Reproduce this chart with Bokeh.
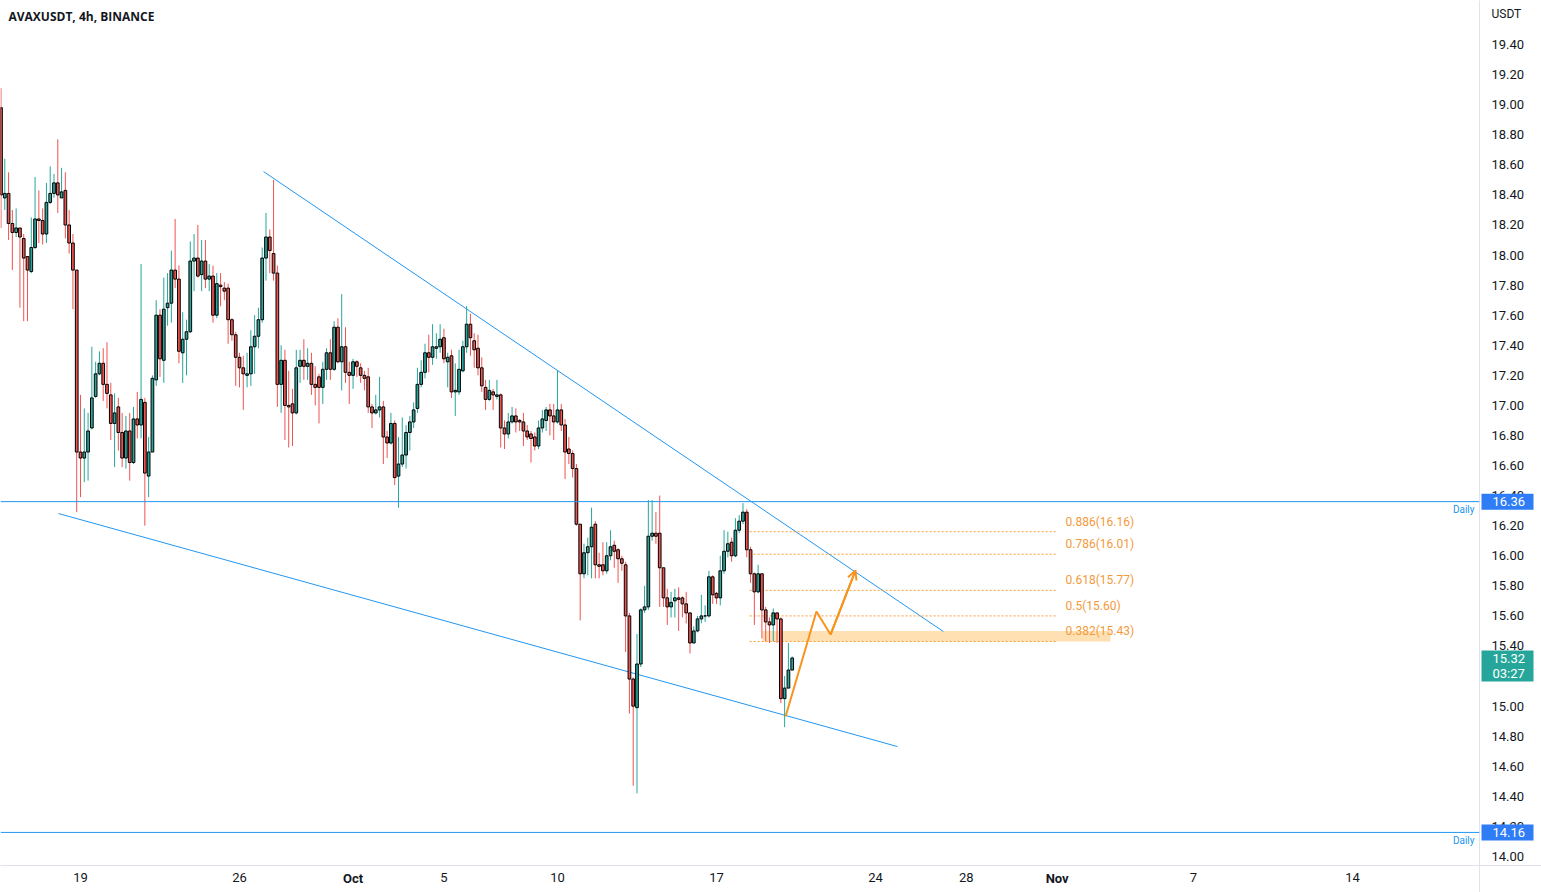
import pandas as pd
from bokeh.plotting import figure
from bokeh.models import (Range1d, FixedTicker, NumeralTickFormatter, Span, Label,
                          Arrow, OpenHead, ColumnDataSource, GridBox)
from bokeh.core.properties import value
from bokeh.embed import file_html
from bokeh.resources import INLINE

# ---------------- data ----------------
chart_title = "AVAXUSDT, 4h, BINANCE"
first_bar = "2022-09-15 12:00"   # 4h bars

opens = [
    18.98, 18.38, 18.41, 18.21, 18.15, 18.18, 18.11, 17.99, 17.89, 18.05,
    18.24, 18.23, 18.14, 18.35, 18.41, 18.48, 18.38, 18.43, 18.20, 18.08,
    17.90, 16.69, 16.65, 16.69, 16.85, 17.06, 17.21, 17.28, 17.14, 17.07,
    16.88, 16.99, 16.82, 16.65, 16.83, 16.62, 16.91, 16.87, 17.02, 16.53,
    16.69, 17.17, 17.60, 17.30, 17.65, 17.68, 17.90, 17.84, 17.35, 17.44,
    17.49, 17.96, 17.98, 17.87, 17.96, 17.84, 17.86, 17.60, 17.80, 17.78,
    17.78, 17.57, 17.47, 17.32, 17.25, 17.20, 17.21, 17.39, 17.46, 17.57,
    17.98, 18.12, 18.01, 17.88, 17.14, 17.30, 17.00, 17.01, 16.95, 17.26,
    17.30, 17.26, 17.28, 17.14, 17.19, 17.12, 17.24, 17.35, 17.24, 17.52,
    17.29, 17.39, 17.22, 17.20, 17.29, 17.25, 17.20, 17.19, 16.99, 16.95,
    16.97, 16.99, 16.79, 16.75, 16.88, 16.53, 16.61, 16.67, 16.82, 16.89,
    16.98, 17.14, 17.22, 17.35, 17.32, 17.38, 17.39, 17.45, 17.29, 17.33,
    17.09, 17.09, 17.23, 17.39, 17.54, 17.43, 17.38, 17.25, 17.12, 17.04,
    17.09, 17.06, 17.07, 16.85, 16.81, 16.89, 16.93, 16.90, 16.89, 16.83,
    16.81, 16.79, 16.73, 16.85, 16.90, 16.97, 16.93, 16.89, 16.97, 16.87,
    16.71, 16.68, 16.58, 16.21, 15.88, 16.02, 16.06, 16.21, 15.94, 15.94,
    15.90, 16.00, 16.07, 16.04, 15.98, 15.94, 15.60, 15.18, 14.99, 15.28,
    15.64, 15.66, 16.13, 16.15, 16.15, 15.92, 15.72, 15.66, 15.70, 15.72,
    15.72, 15.68, 15.62, 15.42, 15.50, 15.58, 15.60, 15.60, 15.86, 15.75,
    15.72, 15.90, 16.03, 16.09, 16.00, 16.17, 16.23, 16.29, 16.04, 15.88,
    15.76, 15.88, 15.64, 15.56, 15.54, 15.62, 15.58, 15.05, 15.12, 15.24,
]
highs = [
    19.11, 18.64, 18.55, 18.30, 18.31, 18.18, 18.14, 17.99, 18.25, 18.52,
    18.43, 18.31, 18.48, 18.59, 18.54, 18.77, 18.58, 18.55, 18.30, 18.14,
    17.90, 17.07, 16.98, 16.95, 17.39, 17.29, 17.36, 17.38, 17.42, 17.15,
    17.08, 17.05, 16.95, 16.93, 16.95, 16.99, 17.09, 17.94, 17.05, 16.79,
    17.20, 17.70, 17.64, 17.85, 17.88, 18.03, 18.24, 17.93, 17.62, 17.57,
    18.09, 18.14, 18.20, 18.10, 18.10, 17.94, 17.93, 17.88, 17.88, 17.82,
    17.81, 17.58, 17.49, 17.35, 17.33, 17.35, 17.50, 17.60, 17.65, 18.05,
    18.28, 18.17, 18.50, 17.93, 17.40, 17.37, 17.23, 17.11, 17.37, 17.37,
    17.44, 17.38, 17.35, 17.26, 17.21, 17.29, 17.38, 17.44, 17.56, 17.58,
    17.74, 17.52, 17.29, 17.31, 17.30, 17.28, 17.23, 17.25, 17.01, 17.07,
    17.19, 17.03, 16.83, 16.95, 16.90, 16.79, 16.92, 16.87, 16.93, 17.02,
    17.25, 17.30, 17.41, 17.47, 17.54, 17.48, 17.54, 17.51, 17.35, 17.37,
    17.28, 17.37, 17.43, 17.66, 17.61, 17.48, 17.47, 17.32, 17.17, 17.17,
    17.11, 17.17, 17.08, 16.90, 16.95, 16.99, 16.98, 16.91, 16.95, 16.87,
    16.83, 16.82, 16.90, 16.97, 16.99, 17.01, 17.01, 17.23, 17.01, 16.91,
    16.79, 16.70, 16.61, 16.21, 16.08, 16.12, 16.32, 16.23, 16.02, 16.09,
    16.09, 16.17, 16.10, 16.05, 16.00, 15.96, 15.62, 15.19, 15.48, 15.65,
    15.80, 16.37, 16.37, 16.29, 16.40, 15.92, 15.78, 15.76, 15.78, 15.79,
    15.73, 15.76, 15.62, 15.53, 15.60, 15.74, 15.67, 15.90, 15.87, 15.76,
    16.00, 16.17, 16.16, 16.12, 16.25, 16.27, 16.35, 16.31, 16.06, 15.89,
    15.94, 15.88, 15.66, 15.59, 15.65, 15.62, 15.59, 15.20, 15.42, 15.33,
]
lows = [
    18.18, 18.30, 18.10, 17.90, 18.12, 17.65, 17.56, 17.56, 17.88, 18.04,
    18.08, 18.07, 18.08, 18.34, 18.38, 18.28, 18.38, 18.11, 18.01, 17.64,
    16.29, 16.39, 16.49, 16.50, 16.84, 17.05, 17.20, 17.03, 16.98, 16.77,
    16.59, 16.70, 16.59, 16.58, 16.50, 16.61, 16.78, 16.78, 16.20, 16.39,
    16.69, 17.13, 17.19, 17.15, 17.53, 17.55, 17.78, 17.28, 17.15, 17.20,
    17.48, 17.76, 17.85, 17.76, 17.78, 17.76, 17.55, 17.58, 17.66, 17.70,
    17.41, 17.43, 17.13, 17.12, 16.97, 17.12, 17.13, 17.21, 17.38, 17.55,
    17.83, 17.88, 17.83, 16.99, 16.95, 16.77, 16.72, 16.73, 16.94, 17.15,
    17.17, 17.17, 17.07, 17.00, 16.88, 17.01, 17.17, 17.17, 17.23, 17.28,
    17.10, 17.15, 17.01, 17.11, 17.19, 17.15, 17.10, 16.95, 16.85, 16.94,
    16.92, 16.61, 16.65, 16.74, 16.47, 16.32, 16.59, 16.58, 16.70, 16.85,
    16.95, 17.12, 17.18, 17.22, 17.27, 17.31, 17.35, 17.28, 17.12, 17.05,
    16.93, 17.07, 17.22, 17.35, 17.33, 17.25, 17.20, 17.09, 16.97, 17.03,
    16.97, 17.04, 16.72, 16.71, 16.78, 16.88, 16.82, 16.83, 16.73, 16.77,
    16.62, 16.70, 16.71, 16.82, 16.83, 16.80, 16.77, 16.88, 16.83, 16.51,
    16.61, 16.52, 16.20, 15.57, 15.85, 15.87, 15.85, 15.85, 15.85, 15.87,
    15.88, 15.97, 15.92, 15.82, 15.90, 15.36, 14.95, 14.47, 14.42, 15.26,
    15.62, 15.64, 16.10, 16.08, 15.66, 15.66, 15.54, 15.59, 15.59, 15.50,
    15.59, 15.55, 15.35, 15.42, 15.49, 15.55, 15.56, 15.59, 15.68, 15.68,
    15.67, 15.88, 15.99, 15.96, 15.99, 16.15, 16.21, 15.99, 15.82, 15.54,
    15.75, 15.45, 15.43, 15.42, 15.43, 15.42, 15.02, 14.86, 15.12, 15.24,
]
closes = [
    18.40, 18.41, 18.21, 18.15, 18.18, 18.12, 17.98, 17.90, 18.05, 18.24,
    18.23, 18.14, 18.35, 18.41, 18.48, 18.40, 18.42, 18.20, 18.08, 17.90,
    16.69, 16.65, 16.69, 16.83, 17.05, 17.21, 17.28, 17.14, 17.08, 16.88,
    16.95, 16.82, 16.65, 16.83, 16.62, 16.91, 16.87, 17.04, 16.55, 16.69,
    17.18, 17.60, 17.31, 17.64, 17.68, 17.90, 17.84, 17.36, 17.44, 17.49,
    17.96, 17.98, 17.86, 17.96, 17.84, 17.86, 17.60, 17.81, 17.79, 17.76,
    17.57, 17.47, 17.32, 17.25, 17.21, 17.21, 17.39, 17.46, 17.57, 17.98,
    18.12, 18.03, 17.88, 17.14, 17.30, 17.00, 16.99, 16.95, 17.25, 17.30,
    17.26, 17.28, 17.14, 17.12, 17.12, 17.24, 17.35, 17.24, 17.52, 17.29,
    17.39, 17.22, 17.20, 17.29, 17.26, 17.20, 17.18, 16.99, 16.95, 16.97,
    16.99, 16.79, 16.75, 16.88, 16.52, 16.61, 16.67, 16.82, 16.89, 16.97,
    17.14, 17.22, 17.35, 17.32, 17.39, 17.39, 17.44, 17.31, 17.32, 17.09,
    17.10, 17.24, 17.39, 17.54, 17.45, 17.37, 17.25, 17.13, 17.04, 17.10,
    17.07, 17.07, 16.85, 16.81, 16.89, 16.93, 16.89, 16.89, 16.83, 16.79,
    16.78, 16.73, 16.85, 16.91, 16.97, 16.93, 16.89, 16.97, 16.87, 16.69,
    16.68, 16.58, 16.21, 15.88, 16.02, 16.06, 16.19, 15.94, 15.93, 15.90,
    16.00, 16.06, 16.03, 15.98, 15.95, 15.60, 15.18, 15.00, 15.28, 15.64,
    15.66, 16.13, 16.15, 16.13, 15.92, 15.72, 15.66, 15.69, 15.72, 15.71,
    15.68, 15.62, 15.42, 15.50, 15.58, 15.60, 15.60, 15.86, 15.74, 15.72,
    15.90, 16.03, 16.08, 16.00, 16.17, 16.23, 16.29, 16.04, 15.88, 15.76,
    15.88, 15.64, 15.56, 15.54, 15.62, 15.58, 15.05, 15.12, 15.24, 15.32,
]

time_tick_dates = ["2022-09-19", "2022-09-26", "2022-10-01", "2022-10-05", "2022-10-10",
                   "2022-10-17", "2022-10-24", "2022-10-28", "2022-11-01", "2022-11-07",
                   "2022-11-14"]
time_tick_labels = ["19", "26", "Oct", "5", "10", "17", "24", "28", "Nov", "7", "14"]
month_labels = ["Oct", "Nov"]
price_tick_labels = ["14.00", "14.20", "14.40", "14.60", "14.80", "15.00", "15.20", "15.40",
                     "15.60", "15.80", "16.00", "16.20", "16.40", "16.60", "16.80", "17.00",
                     "17.20", "17.40", "17.60", "17.80", "18.00", "18.20", "18.40", "18.60",
                     "18.80", "19.00", "19.20", "19.40"]
price_unit = "USDT"

daily_levels = [16.36, 14.16]
daily_tags = ["16.36", "14.16"]

upper_trend_t = ["2022-09-27 01:25", "2022-10-26 23:45"]
upper_trend_p = [18.555, 15.496]
lower_trend_t = ["2022-09-18 00:45", "2022-10-24 23:15"]
lower_trend_p = [16.281, 14.731]

fib_ratios = [0.886, 0.786, 0.618, 0.5, 0.382]
fib_prices = [16.16, 16.01, 15.77, 15.60, 15.43]
fib_span_t = ["2022-10-18 11:00", "2022-11-01 00:20"]

zone_t = ["2022-10-19 00:35", "2022-11-03 08:20"]
zone_p = [15.43, 15.50]

path_t = ["2022-10-20 01:00", "2022-10-21 09:36", "2022-10-22 00:30", "2022-10-23 02:53"]
path_p = [14.931, 15.629, 15.476, 15.902]

last_price = 15.32
countdown = "03:27"

# ---------------- helpers ----------------
EPOCH = pd.Timestamp("2022-09-01")


def day(ts):
    return (pd.Timestamp(ts) - EPOCH) / pd.Timedelta(days=1)


bar_times = pd.date_range(first_bar, periods=len(opens), freq="4h")
t = [(ts - EPOCH) / pd.Timedelta(days=1) for ts in bar_times]

UP, DOWN = "#26a69a", "#ef5350"
BLUE = "#2196f3"
TAG_BLUE = "#2e7cf6"
ORANGE = "#f7931e"
FIB_TXT = "#f39a3c"
TXT = "#131722"
LINE_GRAY = "#e0e3eb"
FONT = "Roboto"

W, H = 1541, 892
RIGHT_W, BOTTOM_H = 62, 27
FRAME_W, FRAME_H = W - RIGHT_W, H - BOTTOM_H

x_start, x_end = 14.478, 79.592
y_start, y_end = 13.940, 19.693
PX_DAY = FRAME_W / (x_end - x_start)
PX_PRICE = FRAME_H / (y_end - y_start)


def px2x(px):
    return x_start + px / PX_DAY


def px2y(py):
    return y_end - py / PX_PRICE


# ---------------- main chart ----------------
p = figure(width=W, height=H, x_range=Range1d(x_start, x_end), y_range=Range1d(y_start, y_end),
           output_backend="svg", toolbar_location=None, y_axis_location="right",
           min_border_left=0, min_border_top=0, min_border_right=RIGHT_W,
           min_border_bottom=BOTTOM_H)
p.frame_align = False
p.outline_line_color = None
p.grid.visible = False

yax = p.yaxis[0]
yax.ticker = FixedTicker(ticks=[float(s) for s in price_tick_labels])
yax.formatter = NumeralTickFormatter(format="0.00")
yax.axis_line_color = LINE_GRAY
yax.major_tick_line_color = None
yax.minor_tick_line_color = None
yax.major_tick_out = 0
yax.major_tick_in = 0
yax.major_label_standoff = 12
yax.major_label_text_font = FONT
yax.major_label_text_font_size = "13px"
yax.major_label_text_color = TXT

xax = p.xaxis[0]
tick_days = [day(d) for d in time_tick_dates]
xax.ticker = FixedTicker(ticks=tick_days)
xax.major_label_overrides = {d: ("" if lab in month_labels else lab)
                             for d, lab in zip(tick_days, time_tick_labels)}
xax.axis_line_color = LINE_GRAY
xax.major_tick_line_color = None
xax.minor_tick_line_color = None
xax.major_tick_out = 0
xax.major_tick_in = 0
xax.major_label_standoff = 7
xax.major_label_text_font = FONT
xax.major_label_text_font_size = "13px"
xax.major_label_text_color = TXT

# zone (under candles)
p.quad(left=[day(zone_t[0])], right=[day(zone_t[1])], bottom=[zone_p[0]], top=[zone_p[1]],
       fill_color="#ff9800", fill_alpha=0.3, line_color=None)

# daily levels
for lvl in daily_levels:
    p.add_layout(Span(location=lvl, dimension="width", line_color=BLUE, line_width=1))
    p.add_layout(Label(x=px2x(FRAME_W - 5), y=lvl - 8 / PX_PRICE, text="Daily",
                       text_align="right", text_baseline="middle", text_font=FONT,
                       text_font_size="10px", text_color=BLUE))

# trend lines
p.line([day(s) for s in upper_trend_t], upper_trend_p, line_color=BLUE, line_width=1)
p.line([day(s) for s in lower_trend_t], lower_trend_p, line_color=BLUE, line_width=1)

# fib levels
f0, f1 = day(fib_span_t[0]), day(fib_span_t[1])
p.segment(x0=[f0] * len(fib_prices), x1=[f1] * len(fib_prices), y0=fib_prices, y1=fib_prices,
          line_color=ORANGE, line_width=1, line_dash="2 2", line_alpha=0.9)
fib_text = [f"{r}({v:.2f})" for r, v in zip(fib_ratios, fib_prices)]
p.text(x=[f1] * len(fib_prices), y=fib_prices, text=fib_text, x_offset=8, y_offset=-10,
       text_baseline="middle", text_align="left", text_font=value(FONT),
       text_font_size="12px", text_color=FIB_TXT)

# candles
src = ColumnDataSource(dict(
    t=t, o=opens, c=closes,
    h=[max(a, b, c) for a, b, c in zip(highs, opens, closes)],
    l=[min(a, b, c) for a, b, c in zip(lows, opens, closes)],
    top=[max(o, c) for o, c in zip(opens, closes)],
    bottom=[min(o, c) for o, c in zip(opens, closes)],
    color=[UP if c >= o else DOWN for o, c in zip(opens, closes)],
))
p.segment(x0="t", y0="l", x1="t", y1="h", line_color="color", line_width=1, source=src)
p.vbar(x="t", width=2.7 / PX_DAY, top="top", bottom="bottom", fill_color="color",
       line_color="#000000", line_width=1, source=src)

# projected path
px_ = [day(s) for s in path_t]
p.line(px_, path_p, line_color=ORANGE, line_width=2)
p.add_layout(Arrow(end=OpenHead(size=9, line_color=ORANGE, line_width=2),
                   x_start=px_[-2], y_start=path_p[-2], x_end=px_[-1], y_end=path_p[-1],
                   line_color=ORANGE, line_width=2))

# title
p.add_layout(Label(x=px2x(8), y=px2y(16), text=chart_title, text_baseline="middle",
                   text_font="Open Sans", text_font_size="12px", text_font_style="bold",
                   text_color=TXT))

# ---------------- transparent overlay for the price-scale tags ----------------
ov = figure(width=W, height=H, x_range=Range1d(x_start, px2x(W)), y_range=Range1d(px2y(H), y_end),
            output_backend="svg", toolbar_location=None, x_axis_location=None,
            y_axis_location=None, min_border=0)
ov.frame_align = False
ov.outline_line_color = None
ov.grid.visible = False
ov.background_fill_alpha = 0
ov.border_fill_alpha = 0

# axis-line continuations into the corner
ov.segment(x0=[px2x(FRAME_W)], x1=[px2x(W)], y0=[y_start], y1=[y_start], line_color=LINE_GRAY)
ov.segment(x0=[px2x(FRAME_W)], x1=[px2x(FRAME_W)], y0=[y_start], y1=[px2y(H)], line_color=LINE_GRAY)

tag_l, tag_r, tag_txt = px2x(FRAME_W + 2), px2x(FRAME_W + 54), px2x(FRAME_W + 13)
half = 8 / PX_PRICE
ov.quad(left=[tag_l] * len(daily_levels), right=[tag_r] * len(daily_levels),
        bottom=[v - half for v in daily_levels], top=[v + half for v in daily_levels],
        fill_color=TAG_BLUE, line_color=None)
ov.text(x=[tag_txt] * len(daily_levels), y=daily_levels, text=daily_tags,
        text_baseline="middle", text_font=value(FONT), text_font_size="13px",
        text_color="white")

ov.quad(left=[tag_l], right=[tag_r], bottom=[last_price - 23.5 / PX_PRICE],
        top=[last_price + 7.5 / PX_PRICE], fill_color=UP, line_color=None)
ov.text(x=[tag_txt, tag_txt], y=[last_price, last_price - 15 / PX_PRICE],
        text=[f"{last_price:.2f}", countdown], text_baseline="middle",
        text_font=value(FONT), text_font_size="13px", text_color="white")

ov.text(x=[px2x(FRAME_W + 12)], y=[px2y(13)], text=[price_unit], text_baseline="middle",
        text_font=value(FONT), text_font_size="12px", text_color=TXT)

month_days = [d for d, lab in zip(tick_days, time_tick_labels) if lab in month_labels]
ov.text(x=month_days, y=[px2y(FRAME_H + 13)] * len(month_days), text=month_labels,
        text_align="center", text_baseline="middle", text_font=value(FONT),
        text_font_size="13px", text_font_style="bold", text_color=TXT)

layout = GridBox(children=[(p, 0, 0), (ov, 0, 0)])
open("out.html", "w").write(file_html(layout, INLINE))
